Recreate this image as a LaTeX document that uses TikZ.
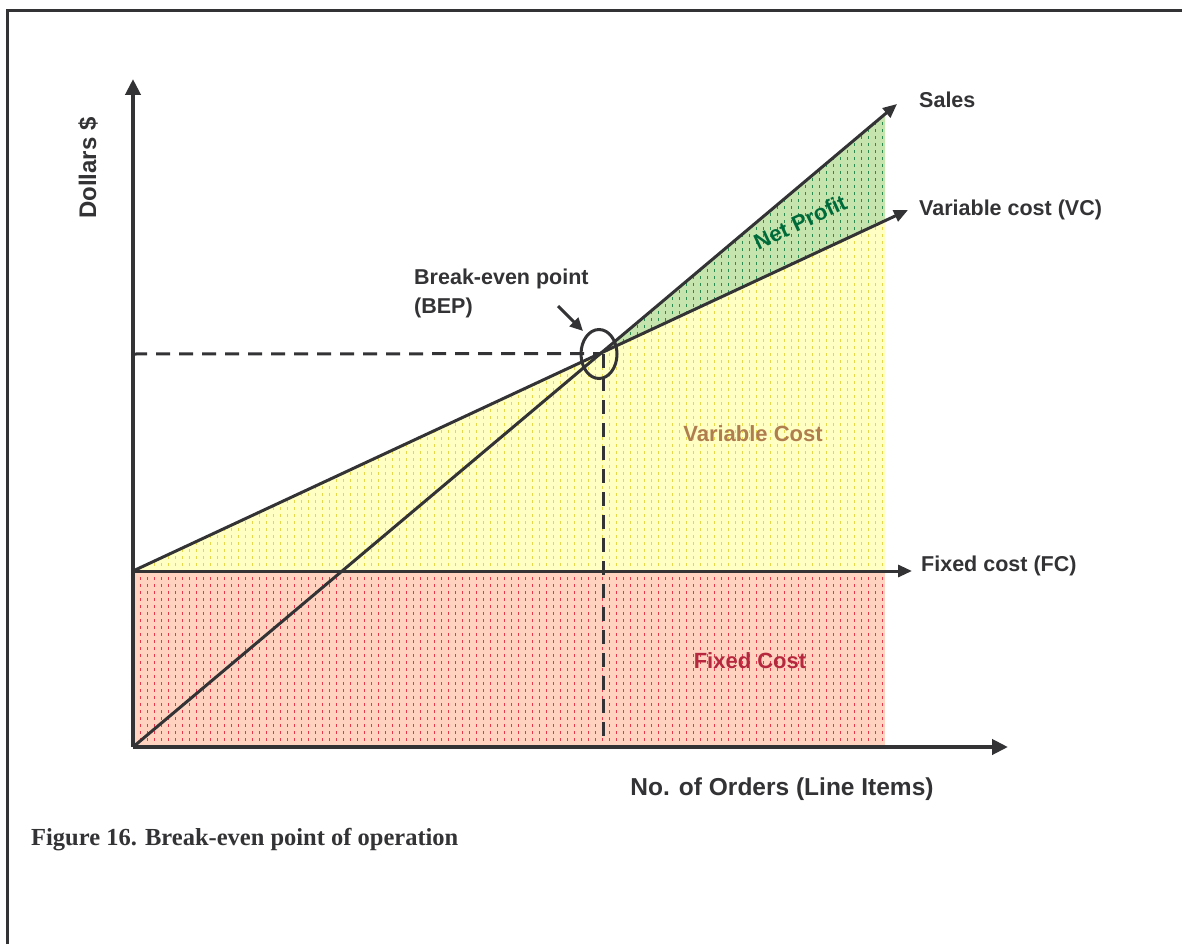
\documentclass[tikz,border=0pt]{standalone}
\usepackage{fontspec}
\setmainfont{Liberation Sans}
\newfontfamily\capfont{Liberation Serif}
\usetikzlibrary{arrows.meta,shapes.geometric,patterns}
\definecolor{ink}{HTML}{333336}
\definecolor{ybg}{HTML}{FFFFC4}
\definecolor{ydot}{HTML}{E6D84A}
\definecolor{rbg}{HTML}{FFD3C0}
\definecolor{rdot}{HTML}{E8364A}
\definecolor{gbg}{HTML}{C6E4AE}
\definecolor{gdot}{HTML}{2E8B50}
\definecolor{vctext}{HTML}{B07E4E}
\definecolor{fctext}{HTML}{B5283E}
\definecolor{nptext}{HTML}{006B3A}
\pgfdeclarepatternformonly{vdash}{\pgfqpoint{-1pt}{-1pt}}{\pgfqpoint{7pt}{7pt}}{\pgfqpoint{7pt}{7pt}}{%
  \pgfpathrectangle{\pgfqpoint{0pt}{0pt}}{\pgfqpoint{1pt}{2.6pt}}\pgfusepath{fill}}
\tikzset{
  axis/.style={draw=ink,line width=4.4pt,-{Triangle[length=16pt,width=15pt]}},
  cline/.style={draw=ink,line width=3pt,-{Triangle[length=14pt,width=12pt]}},
  dline/.style={draw=ink,line width=3pt,dash pattern=on 14pt off 9pt},
  lab/.style={font=\fontsize{21.5}{29}\selectfont\bfseries,text=ink,inner sep=0pt},
  area/.style={font=\fontsize{22}{26}\selectfont\bfseries,inner sep=0pt},
}
\begin{document}
\begin{tikzpicture}[x=1pt,y=-1pt]
\useasboundingbox (0,0) rectangle (1182,944);
\fill[white] (0,0) rectangle (1182,944);
% frame
\draw[ink,line width=3pt] (7,944) -- (7,11) -- (1182,11);
% key points
\coordinate (O) at (133,747);
\coordinate (F0) at (133,571);
\coordinate (BEP) at (600.6,353.6);
\coordinate (Sr) at (885,114.3);
\coordinate (Vr) at (885,221.3);
\coordinate (Fr) at (885,571);
\coordinate (Br) at (885,747);
% fills
\fill[rbg] (F0) -- (Fr) -- (Br) -- (O) -- cycle;
\fill[pattern=vdash,pattern color=rdot] (F0) -- (Fr) -- (Br) -- (O) -- cycle;
\fill[ybg] (F0) -- (Fr) -- (Vr) -- cycle;
\fill[pattern=vdash,pattern color=ydot] (F0) -- (Fr) -- (Vr) -- cycle;
\fill[gbg] (BEP) -- (Sr) -- (Vr) -- cycle;
\fill[pattern=vdash,pattern color=gdot] (BEP) -- (Sr) -- (Vr) -- cycle;
% dashed guides
\coordinate (Dy) at (133,354);
\coordinate (Dx) at (603,747);
\coordinate (Dtop) at (603,354);
\draw[dline] (Dy) -- (BEP);
\draw[dline] (Dtop) -- (Dx);
% lines
\coordinate (SalesTip) at (897,104);
\coordinate (VCTip) at (908,210);
\coordinate (FCTip) at (912,571);
\draw[cline] (O) -- (SalesTip);
\draw[cline] (F0) -- (VCTip);
\draw[cline] (F0) -- (FCTip);
% axes
\coordinate (YTip) at (133,79);
\coordinate (XTip) at (1008,747);
\draw[axis] (O) -- (YTip);
\draw[axis] (O) -- (XTip);
% BEP marker
\node[ellipse,draw=ink,line width=3pt,minimum width=36pt,minimum height=49pt,inner sep=0pt] (bep) at (599,354) {};
\coordinate (BA) at (558,306);
\draw[ink,line width=3pt,-{Triangle[length=13pt,width=12pt]}] (BA) -- (583,331);
% labels
\node[lab,anchor=west] (lsales) at (919,100) {Sales};
\node[lab,anchor=west] (lvc) at (919,210) {Variable cost (VC)};
\node[lab,anchor=west] (lfc) at (921,566) {Fixed cost (FC)};
\node[lab,anchor=north west,align=left] (lbep) at (414,269) {Break-even point\\(BEP)};
\node[area,text=vctext] (avc) at (753,434) {Variable Cost};
\node[area,text=fctext] (afc) at (750,661) {Fixed Cost};
\node[area,text=nptext,rotate=25] (anp) at (800,222) {Net Profit};
\node[font=\fontsize{24}{28}\selectfont\bfseries,text=ink,rotate=90,inner sep=0pt] (ly) at (88,168) {Dollars \$};
\node[font=\fontsize{24.5}{28}\selectfont\bfseries,text=ink,inner sep=0pt] (lx) at (782,789) {No. of Orders (Line Items)};
\node[font=\capfont\fontsize{24.5}{28}\selectfont\bfseries,text=ink,anchor=base west,inner sep=0pt] (cap) at (31,845) {Figure 16. Break-even point of operation};
\end{tikzpicture}
\end{document}
